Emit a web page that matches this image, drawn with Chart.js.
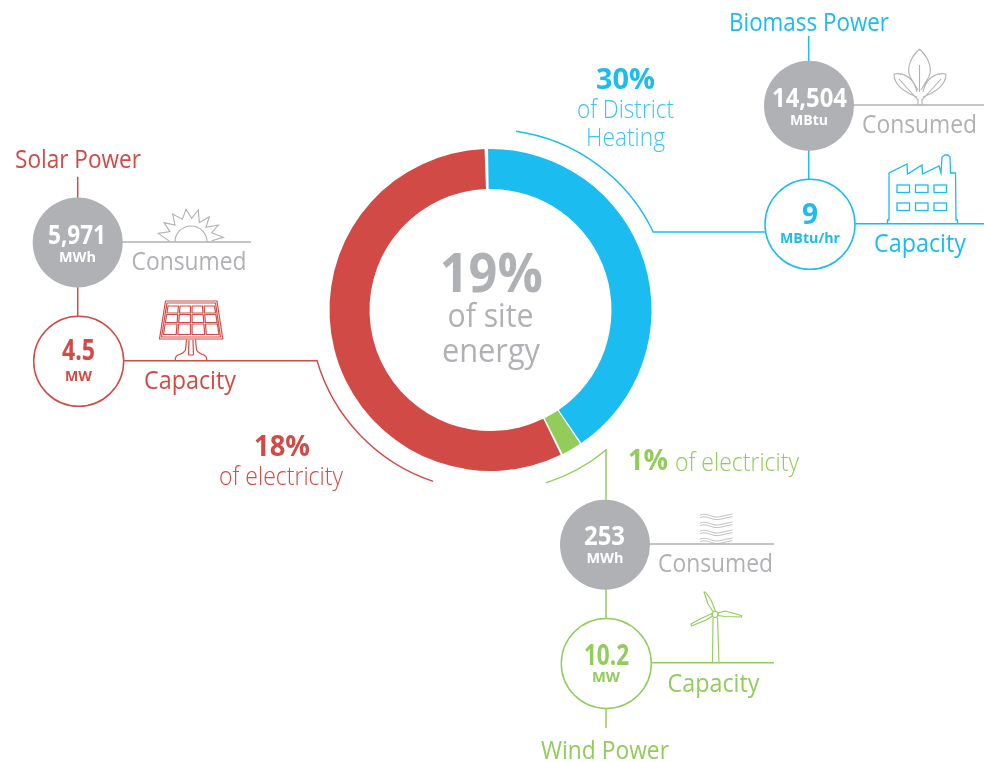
<!DOCTYPE html>
<html>
<head>
<meta charset="utf-8">
<script src="https://cdn.jsdelivr.net/npm/chart.js@4"></script>
<style>html,body{margin:0;padding:0;background:#fff}canvas{display:block}</style>
</head>
<body>
<canvas id="c" width="984" height="762"></canvas>
<script>
// Chart data
const categories = ['Biomass Power', 'Wind Power', 'Solar Power'];
const ringShares = [41, 2, 57];
const shareLabels = ['30%', '1%', '18%'];
const consumedValues = ['14,504', '253', '5,971'];
const consumedUnits = ['MBtu', 'MWh', 'MWh'];
const capacityValues = ['9', '10.2', '4.5'];
const capacityUnits = ['MBtu/hr', 'MW', 'MW'];
const centerLabels = ['19%', 'of site', 'energy'];
const consumedLabel = 'Consumed';
const capacityLabel = 'Capacity';

const BLUE = '#1bbcf0', GREEN = '#92cc5a', RED = '#d24a45', GREY = '#b0b1b4';
const FONT = '"Open Sans"';

function label(ctx, s, cx, y, size, weight, color, w) {
  ctx.font = weight + ' ' + size + 'px ' + FONT;
  ctx.fillStyle = color;
  ctx.textAlign = 'center';
  ctx.textBaseline = 'alphabetic';
  const m = ctx.measureText(s).width;
  if (w && m > w) ctx.fillText(s, cx, y, w); else ctx.fillText(s, cx, y);
}
function seg(ctx, color, lw, pts) {
  ctx.strokeStyle = color; ctx.lineWidth = lw; ctx.beginPath();
  pts.forEach((p, i) => i ? ctx.lineTo(p[0], p[1]) : ctx.moveTo(p[0], p[1]));
  ctx.stroke();
}
function disc(ctx, x, y, r, fill, stroke) {
  ctx.beginPath(); ctx.arc(x, y, r, 0, Math.PI * 2);
  if (fill) { ctx.fillStyle = fill; ctx.fill(); }
  if (stroke) { ctx.strokeStyle = stroke; ctx.lineWidth = 1.5; ctx.stroke(); }
}
function deg(d) { return (d - 90) * Math.PI / 180; }

function leafIcon(ctx) {
  ctx.strokeStyle = GREY; ctx.lineWidth = 1.1; ctx.lineJoin = 'round';
  const p = new Path2D();
  p.moveTo(919.5, 49); p.bezierCurveTo(908, 60, 906, 72, 912, 80); p.lineTo(918, 90);
  p.moveTo(919.5, 49); p.bezierCurveTo(931, 60, 933, 72, 927, 80); p.lineTo(921, 90);
  p.moveTo(919.5, 65); p.lineTo(919.5, 92);
  p.moveTo(894, 74); p.bezierCurveTo(904, 72, 914, 78, 917, 92);
  p.moveTo(894, 74); p.bezierCurveTo(894, 85, 904, 92, 917, 97);
  p.moveTo(899, 79); p.lineTo(918, 100);
  p.moveTo(946, 74); p.bezierCurveTo(936, 72, 926, 78, 923, 92);
  p.moveTo(946, 74); p.bezierCurveTo(946, 85, 936, 92, 923, 97);
  p.moveTo(941, 79); p.lineTo(922, 100);
  p.moveTo(918, 105); p.lineTo(918, 99); p.moveTo(922, 105); p.lineTo(922, 99);
  ctx.stroke(p);
}
function factoryIcon(ctx) {
  ctx.strokeStyle = BLUE; ctx.lineWidth = 1.3; ctx.lineJoin = 'miter';
  seg(ctx, BLUE, 1.3, [[887.5,223],[887.5,220],[889,220],[889,173],[907,164],[907.5,174],[922,165],[922.5,174],[939,166],[941,173],[942,157],[945,155],[948,155],[950,157],[950.5,173],[955.5,173],[956,220],[957.5,220],[957.5,223]]);
  [[897,185],[915.5,185],[934,185],[897,203],[915.5,203],[934,203]].forEach(r => ctx.strokeRect(r[0], r[1], 12.5, 7.5));
}
function sunIcon(ctx) {
  ctx.strokeStyle = GREY; ctx.lineWidth = 1.1; ctx.lineJoin = 'miter';
  ctx.beginPath(); ctx.arc(191, 242, 16, Math.PI, 0); ctx.stroke();
  const z = [[60,125],[25,100],[60,95],[42,68],[75,75],[68,42],[97,58],[108,28],[125,55],[145,30],[148,68],[178,50],[168,82],[205,75],[185,98],[220,112],[185,122]];
  seg(ctx, GREY, 1.1, z.map(p => [150 + p[0] / 3, 200 + p[1] / 3]));
}
function panelIcon(ctx) {
  ctx.strokeStyle = RED; ctx.lineWidth = 1.2; ctx.lineJoin = 'round';
  const rr = (pts) => { ctx.beginPath(); pts.forEach((p, i) => i ? ctx.lineTo(p[0], p[1]) : ctx.moveTo(p[0], p[1])); ctx.closePath(); ctx.stroke(); };
  rr([[165.5,301],[217,301],[222.8,339],[159.5,339]]);
  rr([[167,303],[215.5,303],[220.5,337],[161.5,337]]);
  const rows = [[306,313],[314.5,322.5],[324,334.5]];
  for (let r = 0; r < 3; r++) {
    for (let c = 0; c < 4; c++) {
      const y0 = rows[r][0], y1 = rows[r][1];
      const f0 = (y0 - 301) / 38, f1 = (y1 - 301) / 38;
      const L0 = 168 - 6 * f0, R0 = 214.5 + 6 * f0, L1 = 168 - 6 * f1, R1 = 214.5 + 6 * f1;
      const xa0 = L0 + (R0 - L0) * c / 4 + 0.8, xb0 = L0 + (R0 - L0) * (c + 1) / 4 - 0.8;
      const xa1 = L1 + (R1 - L1) * c / 4 + 0.8, xb1 = L1 + (R1 - L1) * (c + 1) / 4 - 0.8;
      rr([[xa0,y0],[xb0,y0],[xb1,y1],[xa1,y1]]);
    }
  }
  ctx.beginPath();
  ctx.moveTo(186.5, 339.5); ctx.lineTo(185.5, 350); ctx.quadraticCurveTo(184, 353, 178, 355);
  ctx.quadraticCurveTo(174.5, 357, 175.5, 360.5);
  ctx.moveTo(195.5, 339.5); ctx.lineTo(196.5, 350); ctx.quadraticCurveTo(198, 353, 204, 355);
  ctx.quadraticCurveTo(207.5, 357, 206.5, 360.5);
  ctx.moveTo(189, 340); ctx.lineTo(188.5, 355); ctx.moveTo(193, 340); ctx.lineTo(193.5, 355);
  ctx.moveTo(188.5, 355); ctx.lineTo(193.5, 355);
  ctx.stroke();
}
function waveIcon(ctx) {
  ctx.strokeStyle = GREY; ctx.lineWidth = 0.8;
  [515, 523, 531, 539].forEach(y => {
    [0, 2.6].forEach(o => {
      ctx.beginPath();
      ctx.moveTo(700, y + o);
      ctx.bezierCurveTo(708, y + o - 3, 712, y + o + 4, 721, y + o + 1.5);
      ctx.quadraticCurveTo(727, y + o, 732.5, y + o - 1);
      ctx.stroke();
    });
  });
}
function turbineIcon(ctx) {
  ctx.strokeStyle = GREEN; ctx.lineWidth = 1.1; ctx.lineJoin = 'round';
  const hx = 715, hy = 614.5;
  ctx.beginPath(); ctx.arc(hx, hy, 3, 0, Math.PI * 2); ctx.stroke();
  const blade = (pts) => { ctx.beginPath(); pts.forEach((p, i) => i ? ctx.lineTo(p[0], p[1]) : ctx.moveTo(p[0], p[1])); ctx.closePath(); ctx.stroke(); };
  blade([[713,611.5],[708,604],[704,592],[705.5,592],[711,600],[715.5,611]]);
  blade([[718,613],[725,611],[741.5,615.5],[741.5,617],[725,616.5],[718,615.5]]);
  blade([[712.5,616],[706,620],[691.5,626],[691,624],[700,619],[712,613.5]]);
  seg(ctx, GREEN, 1.1, [[713,618],[712.5,663]]);
  seg(ctx, GREEN, 1.1, [[717.5,618],[719,663]]);
}

const overlay = {
  id: 'overlay',
  afterDatasetsDraw(chart) {
    const ctx = chart.ctx;
    const arc0 = chart.getDatasetMeta(0).data[0];
    const cx = arc0.x, cy = arc0.y;
    ctx.save();
    ctx.lineCap = 'butt';

    // ---- outer guide arcs
    const guide = (color, a0, a1, r) => { ctx.strokeStyle = color; ctx.lineWidth = 1.4; ctx.beginPath(); ctx.arc(cx, cy, r, deg(a0), deg(a1)); ctx.stroke(); };
    guide(BLUE, 8.1, 64.3, 180.5);
    guide(GREEN, 140.2, 162.2, 181.5);
    guide(RED, 198.5, 254, 180.7);

    // ---- centre
    label(ctx, centerLabels[0], 491.3, 292, 53, 700, GREY, 103);
    label(ctx, centerLabels[1], 490.5, 327, 33, 400, GREY, 86);
    label(ctx, centerLabels[2], 491, 362, 33, 400, GREY, 98);

    // ---- biomass
    seg(ctx, BLUE, 1.5, [[652.5,232],[765,232]]);
    seg(ctx, BLUE, 1.5, [[808.7,36],[808.7,62]]);
    seg(ctx, BLUE, 1.5, [[808.7,149],[808.7,180]]);
    seg(ctx, GREY, 1.4, [[852,105],[984,105]]);
    seg(ctx, BLUE, 1.5, [[855,223.7],[984,223.7]]);
    disc(ctx, 809, 105.7, 45, GREY);
    disc(ctx, 810, 224.3, 45, '#fff', BLUE);
    leafIcon(ctx); factoryIcon(ctx);
    label(ctx, categories[0], 809, 30.5, 25, 400, BLUE, 160);
    label(ctx, shareLabels[0], 625.5, 89, 29, 700, BLUE, 59);
    label(ctx, 'of District', 625.5, 118, 25, 300, '#3cc4f0', 97);
    label(ctx, 'Heating', 625.5, 146, 25, 300, '#3cc4f0', 79);
    label(ctx, consumedValues[0], 809.5, 106.5, 27, 700, '#fff', 75);
    label(ctx, consumedUnits[0], 809, 125, 15, 700, '#fff', 38);
    label(ctx, capacityValues[0], 810, 224, 28, 700, BLUE);
    label(ctx, capacityUnits[0], 810, 243, 15, 700, BLUE, 60);
    label(ctx, consumedLabel, 919.5, 132.5, 26, 400, GREY, 115);
    label(ctx, capacityLabel, 920, 251.5, 26, 400, BLUE, 92);

    // ---- solar
    seg(ctx, RED, 1.5, [[124,360.7],[317,360.7]]);
    seg(ctx, RED, 1.5, [[77.7,176.7],[77.7,200]]);
    seg(ctx, RED, 1.5, [[77.7,285],[77.7,317]]);
    seg(ctx, GREY, 1.4, [[120,242],[251,242]]);
    disc(ctx, 77.7, 242.5, 45, GREY);
    disc(ctx, 78.7, 361.3, 45, '#fff', RED);
    sunIcon(ctx); panelIcon(ctx);
    label(ctx, categories[2], 78, 167.5, 25, 400, RED, 126);
    label(ctx, consumedValues[2], 77, 244, 27, 700, '#fff', 58);
    label(ctx, consumedUnits[2], 77.5, 261.5, 15, 700, '#fff', 37);
    label(ctx, capacityValues[2], 78.5, 360, 28, 700, RED, 33);
    label(ctx, capacityUnits[2], 78.5, 380.5, 15, 700, RED, 27);
    label(ctx, consumedLabel, 189, 270, 26, 400, GREY, 115);
    label(ctx, capacityLabel, 190, 389, 26, 400, RED, 92);
    label(ctx, shareLabels[2], 282, 456, 29, 700, RED, 56);
    label(ctx, 'of electricity', 281, 484.5, 25, 300, RED, 124);

    // ---- wind
    seg(ctx, GREEN, 1.5, [[606,449.3],[606,502]]);
    seg(ctx, GREEN, 1.5, [[606,588],[606,620]]);
    seg(ctx, GREEN, 1.5, [[606,708],[606,728]]);
    seg(ctx, GREY, 1.4, [[648,544],[774,544]]);
    seg(ctx, GREEN, 1.5, [[652,662.7],[774,662.7]]);
    disc(ctx, 605, 544.7, 45, GREY);
    disc(ctx, 606.3, 663.5, 45, '#fff', GREEN);
    waveIcon(ctx); turbineIcon(ctx);
    label(ctx, categories[1], 605, 758.5, 25, 400, GREEN, 128);
    label(ctx, shareLabels[1], 648, 470, 29, 700, GREEN, 40);
    label(ctx, 'of electricity', 737, 470.5, 25, 300, GREEN, 124);
    label(ctx, consumedValues[1], 604.5, 545, 27, 700, '#fff', 41);
    label(ctx, consumedUnits[1], 605, 563, 15, 700, '#fff', 37);
    label(ctx, capacityValues[1], 606.5, 665, 28, 700, GREEN, 45);
    label(ctx, capacityUnits[1], 606, 682, 15, 700, GREEN, 28);
    label(ctx, consumedLabel, 715.5, 571.5, 26, 400, GREY, 115);
    label(ctx, capacityLabel, 713.5, 691.5, 26, 400, GREEN, 92);
    ctx.restore();
  }
};

new Chart(document.getElementById('c'), {
  type: 'doughnut',
  data: {
    labels: categories,
    datasets: [{
      data: ringShares,
      backgroundColor: [BLUE, GREEN, RED],
      borderWidth: 0,
      spacing: 2
    }]
  },
  options: {
    responsive: false,
    animation: false,
    cutout: '75%',
    rotation: -1.4,
    layout: { padding: { left: 329.5, right: 332.5, top: 149, bottom: 291 } },
    plugins: { legend: { display: false }, tooltip: { enabled: false } }
  },
  plugins: [overlay]
});
</script>
</body>
</html>
